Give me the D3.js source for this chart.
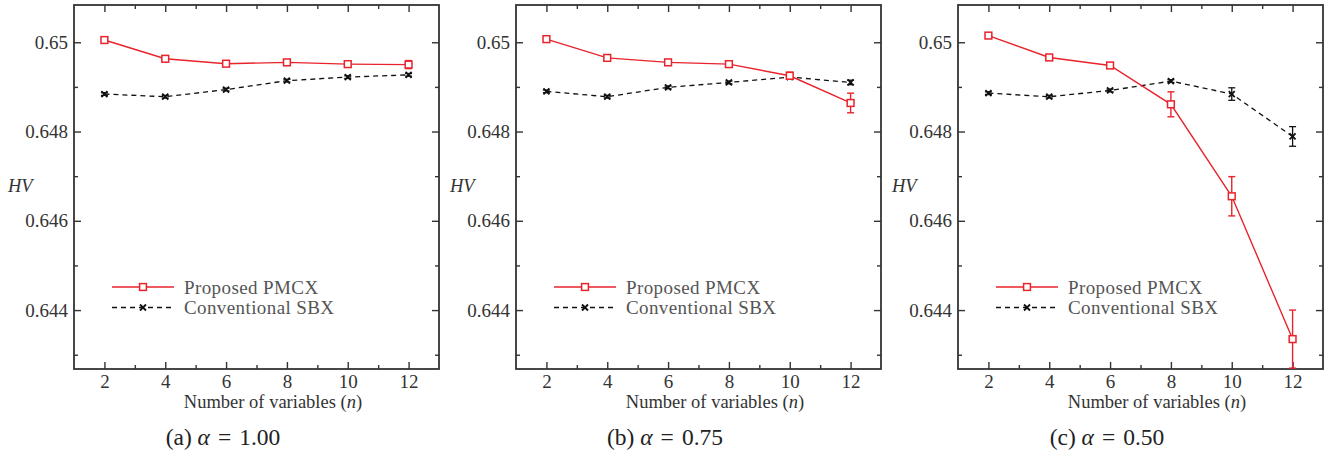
<!DOCTYPE html>
<html>
<head>
<meta charset="utf-8">
<script src="https://cdn.jsdelivr.net/npm/d3@7/dist/d3.min.js"></script>
<style>
  html, body { margin: 0; padding: 0; background: #fff; }
  svg { display: block; }
  text { font-family: "Liberation Serif", "DejaVu Serif", serif; }
</style>
</head>
<body>
<svg id="chart" width="1341" height="459"></svg>
<script>
// Number of decision variables (shared x values)
const variables = [2, 4, 6, 8, 10, 12];

// Panel captions and alpha values
const panelLetters = ["(a)", "(b)", "(c)"];
const alphaValues = ["1.00", "0.75", "0.50"];

// Series names
const seriesNames = ["Proposed PMCX", "Conventional SBX"];

// HV means and spreads, proposed PMCX
const pmcxA = [0.65005, 0.64963, 0.64952, 0.64955, 0.64951, 0.64950];
const pmcxAErr = [0.00002, 0.00002, 0.00002, 0.00002, 0.00002, 0.00009];
const pmcxB = [0.65007, 0.64965, 0.64955, 0.64951, 0.64925, 0.64864];
const pmcxBErr = [0.00002, 0.00002, 0.00002, 0.00002, 0.00008, 0.00022];
const pmcxC = [0.65015, 0.64966, 0.64948, 0.64861, 0.64655, 0.64335];
const pmcxCErr = [0.00002, 0.00002, 0.00003, 0.00028, 0.00044, 0.00065];

// HV means and spreads, conventional SBX
const sbxA = [0.64884, 0.64878, 0.64894, 0.64914, 0.64922, 0.64927];
const sbxAErr = [0.00003, 0.00003, 0.00003, 0.00003, 0.00003, 0.00003];
const sbxB = [0.64890, 0.64878, 0.64899, 0.64910, 0.64922, 0.64910];
const sbxBErr = [0.00003, 0.00003, 0.00003, 0.00003, 0.00005, 0.00005];
const sbxC = [0.64886, 0.64878, 0.64892, 0.64913, 0.64884, 0.64789];
const sbxCErr = [0.00003, 0.00003, 0.00003, 0.00003, 0.00014, 0.00022];

// Axis ticks
const yTickValues = [0.65, 0.648, 0.646, 0.644];
const yTickLabels = ["0.65", "0.648", "0.646", "0.644"];
const yMinorTicks = [0.649, 0.647, 0.645, 0.643];
const xTickValues = [2, 4, 6, 8, 10, 12];
const xMinorTicks = [3, 5, 7, 9, 11];

const panels = [
  { pmcx: pmcxA, pmcxErr: pmcxAErr, sbx: sbxA, sbxErr: sbxAErr },
  { pmcx: pmcxB, pmcxErr: pmcxBErr, sbx: sbxB, sbxErr: sbxBErr },
  { pmcx: pmcxC, pmcxErr: pmcxCErr, sbx: sbxC, sbxErr: sbxCErr }
];

const RED = "#e8232b";
const AXIS = "#333";
const svg = d3.select("#chart");

const plotW = 365, plotH = 364, plotTop = 5;
const lefts = [74, 516, 958];

panels.forEach((p, i) => {
  const left = lefts[i];
  const g = svg.append("g").attr("transform", `translate(${left},${plotTop})`);

  const x = d3.scaleLinear().domain([1, 13]).range([0, plotW]);
  const y = d3.scaleLinear().domain([0.64268, 0.650835]).range([plotH, 0]);

  const clipId = "clip" + i;
  svg.append("clipPath").attr("id", clipId)
    .append("rect").attr("x", left).attr("y", plotTop).attr("width", plotW).attr("height", plotH);

  // ticks on all four sides, pointing inward
  const tickStyle = sel => {
    sel.select(".domain").remove();
    sel.selectAll(".tick line").attr("stroke", AXIS).attr("stroke-width", 1.4);
  };
  const labelStyle = sel => sel.selectAll("text")
    .attr("font-size", 19).attr("fill", AXIS).attr("font-family", "Liberation Serif");

  g.append("g").attr("transform", `translate(0,${plotH})`)
    .call(d3.axisBottom(x).tickValues(xTickValues).tickSize(-7).tickPadding(6).tickFormat(d3.format("d")))
    .call(tickStyle).call(labelStyle);
  g.append("g").attr("transform", `translate(0,${plotH})`)
    .call(d3.axisBottom(x).tickValues(xMinorTicks).tickSize(-4).tickFormat(""))
    .call(tickStyle);
  g.append("g")
    .call(d3.axisTop(x).tickValues(xTickValues).tickSize(-7).tickFormat(""))
    .call(tickStyle);
  g.append("g")
    .call(d3.axisTop(x).tickValues(xMinorTicks).tickSize(-4).tickFormat(""))
    .call(tickStyle);
  g.append("g")
    .call(d3.axisLeft(y).tickValues(yTickValues).tickSize(-7).tickPadding(6)
      .tickFormat((d, k) => yTickLabels[k]))
    .call(tickStyle).call(labelStyle);
  g.append("g")
    .call(d3.axisLeft(y).tickValues(yMinorTicks).tickSize(-4).tickFormat(""))
    .call(tickStyle);
  g.append("g").attr("transform", `translate(${plotW},0)`)
    .call(d3.axisRight(y).tickValues(yTickValues).tickSize(-7).tickFormat(""))
    .call(tickStyle);
  g.append("g").attr("transform", `translate(${plotW},0)`)
    .call(d3.axisRight(y).tickValues(yMinorTicks).tickSize(-4).tickFormat(""))
    .call(tickStyle);

  // frame
  g.append("rect").attr("width", plotW).attr("height", plotH)
    .attr("fill", "none").attr("stroke", AXIS).attr("stroke-width", 1.8);

  const clipG = svg.append("g").attr("clip-path", `url(#${clipId})`)
    .append("g").attr("transform", `translate(${left},${plotTop})`);

  const line = d3.line().x((d, k) => x(variables[k])).y(d => y(d));

  // SBX: dashed black with x markers
  clipG.append("path").datum(p.sbx).attr("d", line)
    .attr("fill", "none").attr("stroke", "#111").attr("stroke-width", 1.3)
    .attr("stroke-dasharray", "5,4");
  p.sbx.forEach((v, k) => {
    const cx = x(variables[k]), e = p.sbxErr[k];
    const y1 = y(v + e), y2 = y(v - e);
    clipG.append("line").attr("x1", cx).attr("x2", cx).attr("y1", y1).attr("y2", y2)
      .attr("stroke", "#111").attr("stroke-width", 1.3);
    [y1, y2].forEach(yy => clipG.append("line").attr("x1", cx - 3.5).attr("x2", cx + 3.5)
      .attr("y1", yy).attr("y2", yy).attr("stroke", "#111").attr("stroke-width", 1.3));
    const cy = y(v), s = 3;
    clipG.append("path").attr("d", `M${cx - s},${cy - s}L${cx + s},${cy + s}M${cx - s},${cy + s}L${cx + s},${cy - s}`)
      .attr("stroke", "#111").attr("stroke-width", 1.8);
  });

  // PMCX: solid red with hollow squares
  clipG.append("path").datum(p.pmcx).attr("d", line)
    .attr("fill", "none").attr("stroke", RED).attr("stroke-width", 1.4);
  p.pmcx.forEach((v, k) => {
    const cx = x(variables[k]), e = p.pmcxErr[k];
    const y1 = y(v + e), y2 = y(v - e);
    clipG.append("line").attr("x1", cx).attr("x2", cx).attr("y1", y1).attr("y2", y2)
      .attr("stroke", RED).attr("stroke-width", 1.4);
    [y1, y2].forEach(yy => clipG.append("line").attr("x1", cx - 3.5).attr("x2", cx + 3.5)
      .attr("y1", yy).attr("y2", yy).attr("stroke", RED).attr("stroke-width", 1.4));
    const cy = y(v);
    clipG.append("rect").attr("x", cx - 3.4).attr("y", cy - 3.4).attr("width", 6.8).attr("height", 6.8)
      .attr("fill", "#fff").attr("stroke", RED).attr("stroke-width", 1.5);
  });

  // legend
  const lg = g.append("g").attr("transform", "translate(38,282)");
  lg.append("line").attr("x1", 0).attr("x2", 62).attr("y1", 0).attr("y2", 0)
    .attr("stroke", RED).attr("stroke-width", 1.4);
  lg.append("rect").attr("x", 31 - 3.4).attr("y", -3.4).attr("width", 6.8).attr("height", 6.8)
    .attr("fill", "#fff").attr("stroke", RED).attr("stroke-width", 1.5);
  lg.append("text").attr("x", 72).attr("y", 6.5).attr("font-size", 19).attr("letter-spacing", 0.4)
    .attr("fill", "#555").text(seriesNames[0]);
  lg.append("line").attr("x1", 0).attr("x2", 62).attr("y1", 20.5).attr("y2", 20.5)
    .attr("stroke", "#111").attr("stroke-width", 1.3).attr("stroke-dasharray", "5,4");
  lg.append("path").attr("d", `M28,17.5L34,23.5M28,23.5L34,17.5`)
    .attr("stroke", "#111").attr("stroke-width", 1.8);
  lg.append("text").attr("x", 72).attr("y", 27).attr("font-size", 19).attr("letter-spacing", 0.4)
    .attr("fill", "#555").text(seriesNames[1]);

  // y-axis title
  svg.append("text").attr("x", left - 66).attr("y", 192)
    .attr("font-size", 18.5).attr("font-style", "italic").attr("fill", AXIS)
    .text("HV");

  // x-axis title
  const xt = svg.append("text").attr("x", left + 199).attr("y", 408)
    .attr("text-anchor", "middle").attr("font-size", 18.5).attr("fill", AXIS);
  xt.append("tspan").text("Number of variables (");
  xt.append("tspan").attr("font-style", "italic").text("n");
  xt.append("tspan").text(")");

  // caption
  const cap = svg.append("text").attr("x", left + 149).attr("y", 445)
    .attr("text-anchor", "middle").attr("font-size", 23.5).attr("fill", "#222");
  cap.append("tspan").text(panelLetters[i] + " ");
  cap.append("tspan").attr("font-style", "italic").text("α");
  cap.append("tspan").attr("dx", 8).text("=");
  cap.append("tspan").attr("dx", 8).text(alphaValues[i]);
});
</script>
</body>
</html>
